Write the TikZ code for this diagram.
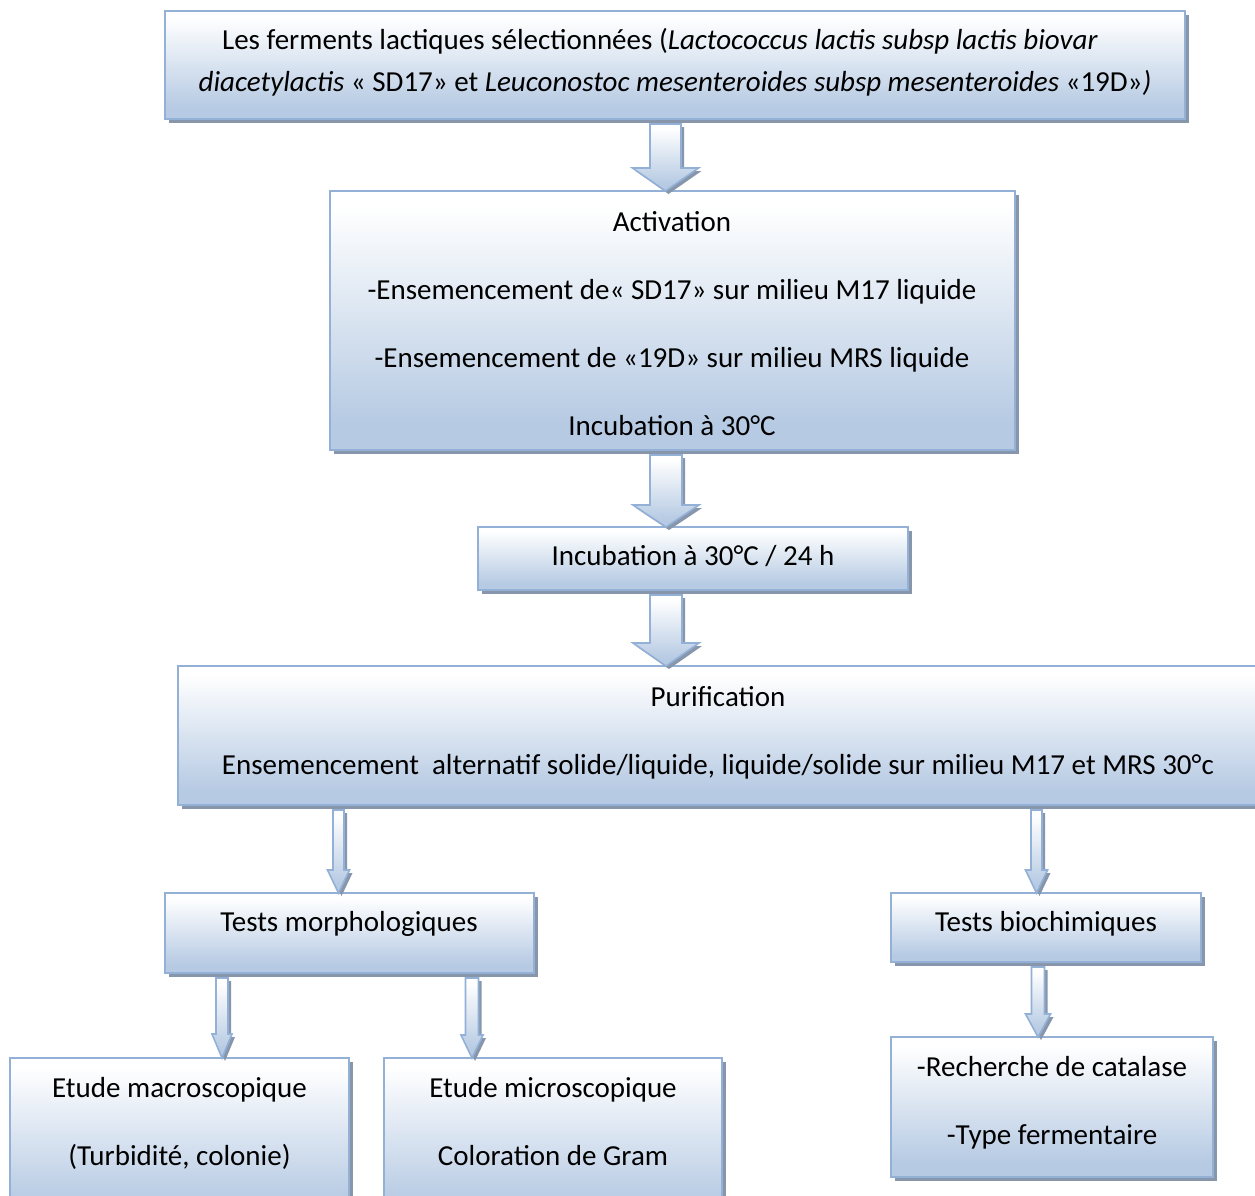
\documentclass[tikz,border=0pt]{standalone}
\usepackage{fontspec}
\setmainfont{Carlito}
\usetikzlibrary{shadows,calc}

\definecolor{boxblue}{HTML}{B6CAE3}
\definecolor{boxline}{HTML}{93B1D6}
\definecolor{shadowc}{HTML}{8796AB}

% soft white-to-blue vertical gradient used for boxes and arrows
\pgfdeclareverticalshading{softblue}{100bp}{color(0bp)=(boxblue); color(30bp)=(boxblue); color(72bp)=(white); color(100bp)=(white)}

\tikzset{
  panel/.style={rectangle, draw=boxline, line width=2pt, shading=softblue,
    drop shadow={shadow xshift=4pt, shadow yshift=-4pt, fill=shadowc, opacity=1},
    inner sep=0pt, outer sep=0pt, anchor=north west},
  txt/.style={font=\fontsize{29}{35}\selectfont, inner sep=0pt, anchor=base},
  flow/.style={draw=boxline, line width=1.6pt, line join=miter, shading=softblue,
    drop shadow={shadow xshift=3pt, shadow yshift=-3pt, fill=shadowc, opacity=1}}
}

% block arrow from the bottom of one box to the top of another
% #1 source node, #2 target node, #3 x of the axis, #4 half shaft width,
% #5 half head width, #6 head length
\newcommand\flowarrow[6]{%
  \path[flow] let \p1=(#1.south), \p2=(#2.north) in
    ({(#3-#4)*1pt},{\y1-5pt}) -- ({(#3+#4)*1pt},{\y1-5pt})
    -- ({(#3+#4)*1pt},{\y2+#6pt}) -- ({(#3+#5)*1pt},{\y2+#6pt})
    -- ({#3pt},{\y2})
    -- ({(#3-#5)*1pt},{\y2+#6pt}) -- ({(#3-#4)*1pt},{\y2+#6pt}) -- cycle;}

\begin{document}
\begin{tikzpicture}[x=1pt,y=-1pt]
\path[use as bounding box, fill=white] (0,0) rectangle (1255,1195);

% boxes
\node[panel, minimum width=1020, minimum height=108] (top)   at (165,11)   {};
\node[panel, minimum width=685,  minimum height=259] (act)   at (330,191)  {};
\node[panel, minimum width=430,  minimum height=63]  (inc)   at (478,527)  {};
\node[panel, minimum width=1080, minimum height=139] (pur)   at (178,666)  {};
\node[panel, minimum width=369,  minimum height=80]  (morph) at (165,893)  {};
\node[panel, minimum width=310,  minimum height=69]  (bio)   at (891,893)  {};
\node[panel, minimum width=339,  minimum height=160] (macro) at (10,1058)  {};
\node[panel, minimum width=338,  minimum height=160] (micro) at (384,1058) {};
\node[panel, minimum width=322,  minimum height=140] (cat)   at (891,1037) {};

% arrows
\flowarrow{top}{act}{665.5}{15.5}{33}{23}
\flowarrow{act}{inc}{666}{16}{33}{22}
\flowarrow{inc}{pur}{666}{16}{33}{23}
\flowarrow{pur}{morph}{338.5}{5.5}{11}{23}
\flowarrow{pur}{bio}{1036.5}{5.5}{11}{23}
\flowarrow{morph}{macro}{222}{6}{10}{24}
\flowarrow{morph}{micro}{472}{6.5}{11}{23}
\flowarrow{bio}{cat}{1038}{6.5}{12.5}{23}

% texts
\node[txt] (t1a) at (660,49.5) {Les ferments lactiques sélectionnées (\textit{Lactococcus lactis subsp lactis biovar}};
\node[txt] (t1b) at (675,91) {\textit{diacetylactis} « SD17» et \textit{Leuconostoc mesenteroides subsp mesenteroides} «19D»\textit{)}};

\node[txt] (t2a) at (672,231) {Activation};
\node[txt] (t2b) at (672,299) {-Ensemencement de« SD17» sur milieu M17 liquide};
\node[txt] (t2c) at (672,367) {-Ensemencement de «19D» sur milieu MRS liquide};
\node[txt] (t2d) at (672,435) {Incubation à 30°C};

\node[txt] (t3) at (693,565) {Incubation à 30°C / 24 h};

\node[txt] (t4a) at (718,706) {Purification};
\node[txt] (t4b) at (718,774) {Ensemencement\ \ alternatif solide/liquide, liquide/solide sur milieu M17 et MRS 30°c};

\node[txt] (t5) at (349,931) {Tests morphologiques};
\node[txt] (t6) at (1046,931) {Tests biochimiques};

\node[txt] (t7a) at (179.5,1097) {Etude macroscopique};
\node[txt] (t7b) at (179.5,1165) {(Turbidité, colonie)};

\node[txt] (t8a) at (553,1097) {Etude microscopique};
\node[txt] (t8b) at (553,1165) {Coloration de Gram};

\node[txt] (t9a) at (1052,1076) {-Recherche de catalase};
\node[txt] (t9b) at (1052,1144) {-Type fermentaire};
\end{tikzpicture}
\end{document}
